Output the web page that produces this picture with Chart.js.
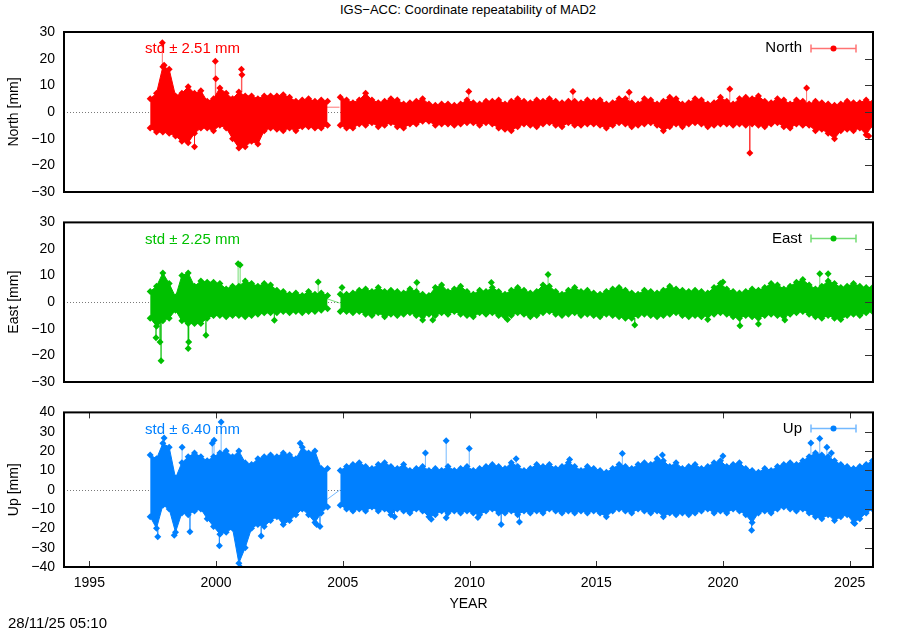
<!DOCTYPE html>
<html>
<head>
<meta charset="utf-8">
<script src="https://cdn.jsdelivr.net/npm/chart.js@4.4.0/dist/chart.umd.min.js"></script>
<style>
  html, body { margin: 0; padding: 0; background: #fff; }
  #wrap { position: relative; width: 900px; height: 630px; overflow: hidden;
          font-family: "Liberation Sans", Arial, sans-serif; color: #000; }
  canvas { position: absolute; left: 0; }
  .txt { position: absolute; white-space: nowrap; line-height: 16px; }
</style>
</head>
<body>
<div id="wrap">
  <div class="txt" id="title" style="left:468px; top:2px; transform:translateX(-50%); font-size:13px;">IGS−ACC: Coordinate repeatability of MAD2</div>
  <canvas id="north" width="900" height="210" style="top:0"></canvas>
  <canvas id="east" width="900" height="200" style="top:205px"></canvas>
  <canvas id="up" width="900" height="235" style="top:395px"></canvas>
  <div class="txt" id="stamp" style="left:8px; top:615px; font-size:15px;">28/11/25 05:10</div>
</div>
<script>
const FONT = '"Liberation Sans", Arial, sans-serif';

// sampling grid of the envelopes: YEAR0 + i * STEP (null = data gap)
const YEAR0 = 1997.4;
const STEP  = 0.25;
const X_MIN = 1994;
const X_MAX = 2025.92;

const YEAR_TICKS = [1995, 2000, 2005, 2010, 2015, 2020, 2025];
const NE_TICKS   = [-30, -20, -10, 0, 10, 20, 30];
const UP_TICKS   = [-40, -30, -20, -10, 0, 10, 20, 30, 40];

const STD_NORTH = 2.51;
const STD_EAST  = 2.25;
const STD_UP    = 6.40;

// North [mm] – upper / lower edge of the daily scatter
const NORTH_HI = [
  5, 7, 17, 16, 6, 7, 9.5, 7, 8, 4,
  5, 9, 7, 5, 7.5, 6, 6, 5, 6, 6,
  6, 6.5, 5.5, 4, 4.5, 5, 4, 4.5, 4,
  null,
  5.5, 4.5, 3.5, 4.5, 7, 4.5, 3.5, 4, 5, 4.5,
  3, 3.5, 4, 5, 3, 2.5, 3, 3, 2.5, 3,
  4.5, 3.5, 3, 4, 4, 4.5, 3, 4, 5, 4,
  3.5, 4.5, 4, 5, 4, 3.5, 4, 4, 3.5, 4.5,
  4, 4.5, 3, 3.5, 5, 5, 3.5, 3, 5, 4.5,
  3, 4, 5.5, 5, 3, 3.5, 5, 4.5, 3, 3.5,
  5.5, 4, 3, 5, 5.5, 5, 6, 4, 3.5, 5,
  4.5, 3, 4.5, 4, 3, 4, 3.5, 3, 2.5, 3,
  4, 3.5, 3.5, 4.5, 3.5
];
const NORTH_LO = [
  -6, -7.5, -7.5, -8, -9, -11, -11.5, -8, -6, -6,
  -7, -5, -6, -10, -13.5, -13, -11, -12, -7, -6,
  -6.5, -7, -6, -7, -5.5, -5.5, -6, -6, -5,
  null,
  -5, -6, -6, -4.5, -5, -4, -5.5, -5, -4, -5.5,
  -6, -4.5, -4.5, -3.5, -3.5, -5, -4.5, -4.5, -5, -4.5,
  -4, -4, -5, -4, -4.5, -6, -6.5, -7, -5.5, -4.5,
  -5, -5.5, -4.5, -4, -5, -5.5, -4, -5, -5, -4.5,
  -4.5, -5, -6, -5, -4, -4.5, -5.5, -5, -4.5, -4,
  -5, -7, -5.5, -4.5, -5.5, -4.5, -4, -4.5, -5.5, -5,
  -4.5, -4.5, -5, -4.5, -5, -4.5, -5, -5.5, -4.5, -4,
  -5.5, -6, -4.5, -5, -5, -7, -6.5, -8, -10, -7,
  -6.5, -7, -6, -8.5, -5
];
const NORTH_SPIKES = [
  [1997.88, 26], [1997.95, 17.5], [1999.15, -13], [1999.97, 19], [1999.99, 12.5],
  [2001.0, 16], [2001.02, 14], [2009.97, 7.7], [2014.08, 7.7], [2016.3, 7.4],
  [2020.27, 8.6], [2021.06, -15.4], [2023.3, 9], [2025.75, -9]
];
const NORTH_GAP = [[2004.34, 1.8], [2004.87, 1.8]];

// East [mm]
const EAST_HI = [
  4, 6, 11, 7, 2, 10, 11, 6, 8, 7.5,
  7.5, 7, 5, 6, 6, 8, 7, 6, 7, 6.5,
  4.5, 4, 3, 3.5, 2.5, 4, 3, 3.5, 2.5,
  null,
  3, 3, 3.5, 4.5, 5, 4, 5.5, 4, 4.5, 4,
  3.5, 5, 4, 3, 2.5, 5.5, 6.5, 4, 5, 6,
  4, 3, 4.5, 4, 5.5, 4, 3, 4.5, 5.5, 4.5,
  3.5, 4, 6.5, 6, 4, 3, 4.5, 5.5, 4, 4.5,
  3.5, 3, 4, 5, 5.5, 4.5, 3.5, 3, 4.5, 4,
  3.5, 4.5, 6, 5, 4.5, 4, 4.5, 4, 3.5, 5.5,
  7, 5, 4, 3.5, 4, 5, 4.5, 5.5, 7, 6.5,
  5, 6, 7.5, 8.5, 6.5, 5, 6, 8, 7, 5.5,
  6, 7, 6, 5.5, 5.5
];
const EAST_LO = [
  -6, -9, -7, -6, -3, -7, -8, -8, -8, -6,
  -5, -5, -5.5, -5, -5, -5.5, -5, -4.5, -4, -4,
  -4, -3.5, -4, -3.5, -4, -3.5, -3.5, -3, -2.5,
  null,
  -3.5, -3.5, -4, -3.5, -4.5, -5, -4, -5.5, -4.5, -5,
  -4.5, -4, -5, -5.5, -4.5, -5, -4, -4.5, -3.5, -4.5,
  -5, -5.5, -4, -4.5, -4, -5, -5.5, -5, -4, -4.5,
  -5.5, -5, -4, -3.5, -4.5, -5, -4.5, -4, -5, -4.5,
  -5, -5.5, -4.5, -5, -5.5, -6, -6, -5, -4.5, -5,
  -5.5, -5, -4.5, -4, -5, -5.5, -5, -5.5, -5, -4.5,
  -4, -4.5, -5.5, -6, -5, -5.5, -6, -5, -4.5, -5,
  -5.5, -4.5, -4, -3.5, -4.5, -5.5, -6, -5, -6, -6.5,
  -5, -4.5, -5, -4, -3.5
];
const EAST_SPIKES = [
  [1997.63, -13.4], [1997.79, -15], [1997.83, -22], [1998.9, -17.4], [1998.92, -15],
  [1999.6, -12.4], [2000.87, 14.5], [2000.95, 14], [2002.3, -6.8], [2004.03, 7.6],
  [2004.97, 5.5], [2007.92, 7.4], [2008.15, -6.7], [2008.55, -6.7], [2010.86, 7.4],
  [2011.5, -6.5], [2013.1, 10.4], [2016.52, -8.6], [2019.4, -6.5], [2020.0, 7.6],
  [2020.67, -8.9], [2021.4, -8.2], [2022.44, -6.7], [2023.82, 10.7], [2024.15, 10.7]
];
const EAST_GAP = [[2004.34, 1.4], [2004.87, -0.3]];

// Up [mm]
const UP_HI = [
  18, 16, 24, 22, 6, 14, 17, 19, 17, 15,
  17, 19, 20, 17, 20, 14, 13, 16, 17, 18,
  17, 19, 18, 16, 22, 19, 20, 11, 11,
  null,
  10, 12, 13, 14, 12, 11, 13, 14, 12, 11,
  13, 10, 11, 12, 10, 11, 10, 12, 10, 11,
  12, 10, 11, 12, 13, 12, 11, 14, 12, 10,
  11, 13, 12, 13, 11, 12, 14, 12, 10, 12,
  11, 10, 9, 11, 13, 12, 11, 13, 14, 13,
  16, 15, 12, 14, 11, 12, 13, 11, 12, 14,
  15, 12, 13, 14, 11, 10, 9, 11, 10, 12,
  13, 14, 13, 15, 17, 19, 18, 17, 15, 13,
  12, 11, 12, 13, 15
];
const UP_LO = [
  -14, -20, -8, -10, -22, -12, -13, -11, -10, -15,
  -19, -23, -22, -20, -38, -30, -20, -18, -19, -16,
  -14, -18, -16, -13, -10, -13, -17, -12, -9,
  null,
  -8, -10, -11, -10, -11, -9, -11, -10, -13, -10,
  -11, -12, -10, -11, -14, -13, -11, -12, -11, -12,
  -11, -12, -13, -11, -10, -12, -12, -11, -13, -11,
  -12, -11, -12, -10, -11, -12, -11, -12, -11, -12,
  -11, -12, -14, -11, -10, -11, -12, -10, -11, -12,
  -11, -14, -12, -13, -12, -13, -12, -11, -10, -12,
  -11, -12, -10, -11, -13, -17, -12, -11, -12, -10,
  -9, -10, -11, -10, -12, -14, -15, -13, -16, -14,
  -13, -17, -15, -12, -10
];
const UP_SPIKES = [
  [1997.7, -24.4], [1997.95, 26.8], [1998.35, -23.6], [1998.66, 22], [1998.97, -21.8],
  [1999.85, 24], [1999.92, 25.6], [2000.13, -29], [2000.2, 35], [2000.95, -40],
  [2001.78, -24], [2003.32, 24], [2003.97, -18], [2004.1, -19], [2007.04, -14],
  [2008.26, 19], [2008.49, -15.3], [2009.08, 25.3], [2009.08, -14.5], [2009.99, 21.3],
  [2010.33, -14.4], [2011.25, -18], [2011.84, 16], [2011.97, -16.7], [2013.95, 15.6],
  [2016.03, 18.7], [2017.61, 17.9], [2020.0, 17.4], [2021.13, -21], [2023.47, 24.2],
  [2023.82, 26.5], [2024.1, 22], [2024.28, 19], [2025.2, -17.5]
];
const UP_GAP = [[2004.34, -5.4], [2004.87, -0.3]];

function gridPoints(vals) {
  return vals.map((v, i) => ({ x: Math.round((YEAR0 + i * STEP) * 100) / 100, y: v }));
}

// each outlier hangs off the nearest edge of the band
function spikePoints(spikes, hi, lo) {
  const pts = [];
  spikes.forEach(([t, v]) => {
    const i = Math.min(hi.length - 1, Math.max(0, Math.round((t - YEAR0) / STEP)));
    const base = v > 0 ? hi[i] : lo[i];
    if (base !== null) pts.push({ x: t, y: base });
    pts.push({ x: t, y: v, tip: true });
    pts.push({ x: t, y: null });
  });
  return pts;
}

const panelDecor = {
  id: 'panelDecor',
  beforeDatasetsDraw(chart, args, o) {
    const { ctx, chartArea: a } = chart;
    const y0 = Math.round(chart.scales.y.getPixelForValue(0)) + 0.5;
    ctx.save();
    ctx.strokeStyle = '#7a7a7a';
    ctx.lineWidth = 1;
    ctx.setLineDash([1, 2]);
    ctx.beginPath();
    ctx.moveTo(a.left, y0);
    ctx.lineTo(a.right, y0);
    ctx.stroke();
    ctx.restore();
  },
  afterDraw(chart, args, o) {
    const { ctx, chartArea: a, scales } = chart;
    ctx.save();
    // inward tick marks (mirror side + x on the bottom panel)
    ctx.strokeStyle = '#333';
    ctx.lineWidth = 1;
    ctx.beginPath();
    scales.y.ticks.forEach(t => {
      const py = Math.round(scales.y.getPixelForValue(t.value)) + 0.5;
      ctx.moveTo(a.right - 8, py);
      ctx.lineTo(a.right, py);
    });
    if (o.xTicks) {
      scales.x.ticks.forEach(t => {
        const px = Math.round(scales.x.getPixelForValue(t.value)) + 0.5;
        ctx.moveTo(px, a.top);
        ctx.lineTo(px, a.top + 6);
        ctx.moveTo(px, a.bottom);
        ctx.lineTo(px, a.bottom - 6);
      });
    }
    ctx.stroke();

    ctx.strokeStyle = '#000';
    ctx.lineWidth = 2;
    ctx.strokeRect(a.left, a.top, a.right - a.left, a.bottom - a.top);

    ctx.font = '15px ' + FONT;
    ctx.textBaseline = 'middle';
    ctx.textAlign = 'left';
    ctx.fillStyle = o.color;
    ctx.fillText('std ± ' + o.std.toFixed(2) + ' mm', a.left + 81, a.top + 17);

    // key: label + error-bar sample
    ctx.textAlign = 'right';
    ctx.fillStyle = '#000';
    ctx.fillText(chart.data.datasets[2].label, a.right - 71, a.top + 16);
    const ly = Math.round(a.top + 16) + 0.5;
    const x1 = a.right - 62, x2 = a.right - 17;
    ctx.strokeStyle = o.light;
    ctx.lineWidth = 1.5;
    ctx.beginPath();
    ctx.moveTo(x1, ly); ctx.lineTo(x2, ly);
    ctx.moveTo(x1, ly - 4); ctx.lineTo(x1, ly + 4);
    ctx.moveTo(x2, ly - 4); ctx.lineTo(x2, ly + 4);
    ctx.stroke();
    ctx.fillStyle = o.color;
    ctx.beginPath();
    ctx.arc((x1 + x2) / 2, ly, 3, 0, Math.PI * 2);
    ctx.fill();
    ctx.restore();
  }
};

function makePanel(id, p) {
  const tickFont = { family: FONT, size: 14 };
  const line = (data, extra) => Object.assign({
    data,
    borderColor: p.color,
    backgroundColor: p.color,
    borderWidth: 1,
    pointStyle: 'rectRot',
    pointRadius: 3.5,
    pointBorderWidth: 0,
    tension: 0,
    spanGaps: false,
    fill: false
  }, extra);

  return new Chart(document.getElementById(id), {
    type: 'line',
    data: {
      datasets: [
        line(spikePoints(p.spikes, p.hi, p.lo), {
          borderColor: p.light,
          pointRadius: c => (c.raw && c.raw.tip ? 3.5 : 0)
        }),
        line(p.gap.map(([x, y]) => ({ x, y })), { borderColor: p.light, pointRadius: 0 }),
        line(gridPoints(p.hi), { label: p.label, fill: '+1' }),
        line(gridPoints(p.lo))
      ]
    },
    options: {
      responsive: false,
      animation: false,
      devicePixelRatio: 1,
      events: [],
      layout: { padding: { left: 0, right: 27, top: p.padTop, bottom: p.padBottom } },
      plugins: {
        legend: { display: false },
        tooltip: { enabled: false },
        panelDecor: { color: p.color, light: p.light, std: p.std, xTicks: p.showX }
      },
      scales: {
        x: {
          type: 'linear',
          min: X_MIN,
          max: X_MAX,
          display: p.showX,
          afterBuildTicks: s => { s.ticks = YEAR_TICKS.map(v => ({ value: v })); },
          afterFit: s => { if (p.showX) s.height = 63; },
          grid: { display: false, drawTicks: false },
          border: { display: false },
          ticks: { padding: 8, maxRotation: 0, autoSkip: false, color: '#000', font: tickFont,
                   callback: v => String(v) },
          title: { display: true, text: 'YEAR', color: '#000', font: tickFont, padding: { top: 0, bottom: 17 } }
        },
        y: {
          min: p.ticks[0],
          max: p.ticks[p.ticks.length - 1],
          afterBuildTicks: s => { s.ticks = p.ticks.map(v => ({ value: v })); },
          afterFit: s => { s.width = 64; },
          grid: { display: false, drawTicks: false },
          border: { display: false },
          ticks: { padding: 9, autoSkip: false, color: '#000', font: tickFont,
                   callback: v => String(v).replace('-', '\u2212') },
          title: { display: true, text: p.axisTitle, color: '#000', font: tickFont, padding: { top: 6, bottom: 0 } }
        }
      }
    },
    plugins: [panelDecor]
  });
}

makePanel('north', {
  label: 'North', axisTitle: 'North [mm]', std: STD_NORTH,
  color: '#ff0000', light: 'rgba(255,0,0,0.55)',
  hi: NORTH_HI, lo: NORTH_LO, spikes: NORTH_SPIKES, gap: NORTH_GAP,
  ticks: NE_TICKS, showX: false, padTop: 32, padBottom: 18
});
makePanel('east', {
  label: 'East', axisTitle: 'East [mm]', std: STD_EAST,
  color: '#00c000', light: 'rgba(0,192,0,0.55)',
  hi: EAST_HI, lo: EAST_LO, spikes: EAST_SPIKES, gap: EAST_GAP,
  ticks: NE_TICKS, showX: false, padTop: 17, padBottom: 23
});
makePanel('up', {
  label: 'Up', axisTitle: 'Up [mm]', std: STD_UP,
  color: '#0080ff', light: 'rgba(0,128,255,0.55)',
  hi: UP_HI, lo: UP_LO, spikes: UP_SPIKES, gap: UP_GAP,
  ticks: UP_TICKS, showX: true, padTop: 17, padBottom: 0
});
</script>
</body>
</html>
